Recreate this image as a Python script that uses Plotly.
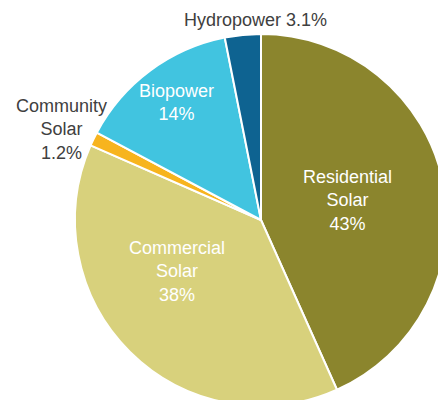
import plotly.graph_objects as go

# Data
labels = ["Residential Solar", "Commercial Solar", "Community Solar", "Biopower", "Hydropower"]
values = [43, 38, 1.2, 14, 3.1]
display_names = ["Residential<br>Solar", "Commercial<br>Solar", "Community<br>Solar", "Biopower", "Hydropower"]
colors = ["#8B852D", "#D8D17C", "#F7B41E", "#41C4E0", "#0E6391"]

# Figure geometry (figure larger than the viewport so the pie is cropped like the original)
W, H = 460, 420
cx, cy, r = 261, 220, 186  # pixel centre (from top-left) and radius

fig = go.Figure(go.Pie(
    labels=labels,
    values=values,
    sort=False,
    direction="clockwise",
    rotation=0,
    marker=dict(colors=colors, line=dict(color="white", width=2)),
    textinfo="none",
    hoverinfo="label+value",
    showlegend=False,
    domain=dict(x=[(cx - r) / W, (cx + r) / W], y=[(H - cy - r) / H, (H - cy + r) / H]),
))

# label positions (pixels) and styles
label_pos = [(347, 200), (177, 271), (61, 129), (176, 102), (255, 20)]
inside = [True, True, False, True, False]
separators = ["<br>", "<br>", "<br>", "<br>", " "]

for name, v, (px, py), ins, sep in zip(display_names, values, label_pos, inside, separators):
    fig.add_annotation(
        x=px / W, y=1 - py / H, xref="paper", yref="paper",
        text=f"{name}{sep}{v:g}%",
        showarrow=False, xanchor="center", yanchor="middle", align="center",
        font=dict(family="Liberation Sans, Arial, sans-serif", size=18,
                  color="white" if ins else "#404040"),
    )

fig.update_layout(
    width=W, height=H,
    margin=dict(l=0, r=0, t=0, b=0),
    paper_bgcolor="white", plot_bgcolor="white",
)

fig.write_html("out.html")
